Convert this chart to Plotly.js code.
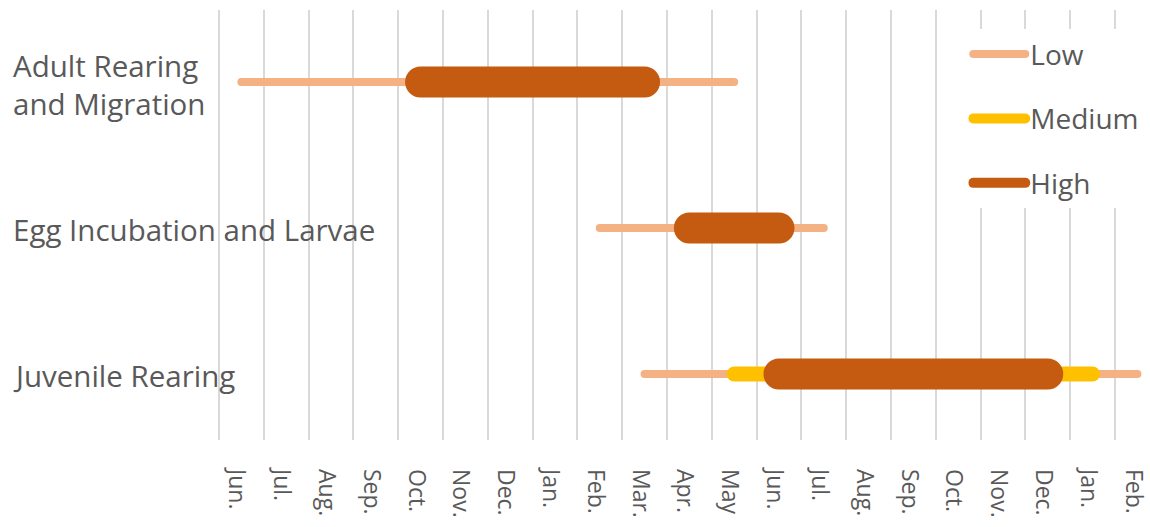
<!DOCTYPE html>
<html>
<head>
<meta charset="utf-8">
<script src="https://cdn.plot.ly/plotly-3.0.1.min.js"></script>
<style>
  body { margin: 0; background: #fff; }
  #chart { width: 1150px; height: 527px; }
  path.js-line { stroke-linecap: round !important; }
</style>
</head>
<body>
<div id="chart"></div>
<script>
// life stages (top to bottom)
var categories = ['Adult Rearing and Migration', 'Egg Incubation and Larvae', 'Juvenile Rearing'];
var stageLabels = ['Adult Rearing<br>and Migration', 'Egg Incubation and Larvae', 'Juvenile Rearing'];

// month axis, index 0 = Jun. (first year) ... 20 = Feb.
var months = ['Jun.', 'Jul.', 'Aug.', 'Sep.', 'Oct.', 'Nov.', 'Dec.', 'Jan.', 'Feb.', 'Mar.', 'Apr.',
              'May', 'Jun.', 'Jul.', 'Aug.', 'Sep.', 'Oct.', 'Nov.', 'Dec.', 'Jan.', 'Feb.'];

// periods in month units
var lowStart = [0.5, 8.5, 9.5];
var lowEnd = [11.5, 13.5, 20.5];
var mediumStart = [null, null, 11.5];
var mediumEnd = [null, null, 19.5];
var highStart = [4.5, 10.5, 12.5];
var highEnd = [9.5, 12.5, 18.5];

function segs(starts, ends) {
    var xs = [], ys = [];
    for (var i = 0; i < categories.length; i++) {
        if (starts[i] === null) continue;
        xs.push(starts[i], ends[i], null);
        ys.push(categories[i], categories[i], null);
    }
    return {x: xs, y: ys};
}

var low = segs(lowStart, lowEnd);
var med = segs(mediumStart, mediumEnd);
var high = segs(highStart, highEnd);

var data = [
    {x: low.x, y: low.y, name: 'Low', type: 'scatter', mode: 'lines', legendgroup: 'a',
     line: {color: '#F4B183', width: 8}, connectgaps: false, hoverinfo: 'skip'},
    {x: med.x, y: med.y, name: 'Medium', type: 'scatter', mode: 'lines', legendgroup: 'b',
     line: {color: '#FFC000', width: 15}, connectgaps: false, hoverinfo: 'skip'},
    {x: high.x, y: high.y, name: 'High', type: 'scatter', mode: 'lines', legendgroup: 'c',
     line: {color: '#C55A11', width: 31}, connectgaps: false, hoverinfo: 'skip'}
];

var labelShift = [-3, -2, -1];
var annotations = [];
for (var i = 0; i < categories.length; i++) {
    annotations.push({
        text: stageLabels[i], xref: 'paper', yref: 'y', x: -0.2129, y: categories[i],
        yshift: labelShift[i],
        xanchor: 'left', align: 'left', showarrow: false,
        font: {family: 'Open Sans', size: 29.5, color: '#595959'}
    });
}

var layout = {
    width: 1150,
    height: 527,
    margin: {l: 210, r: 5, t: 10, b: 87},
    paper_bgcolor: '#fff',
    plot_bgcolor: '#fff',
    font: {family: 'Open Sans', color: '#595959'},
    xaxis: {
        range: [-0.2, 20.67],
        tickvals: months.map(function(m, i) { return i; }),
        ticktext: months,
        tickangle: 90,
        ticklabelshift: 18,
        ticklabelstandoff: 28,
        ticklabeloverflow: 'allow',
        showgrid: true,
        gridcolor: '#d9d9d9',
        gridwidth: 2,
        zeroline: false,
        showline: false,
        ticks: '',
        tickfont: {size: 23, color: '#595959'},
        fixedrange: true
    },
    yaxis: {
        type: 'category',
        categoryarray: categories,
        range: [2.452, -0.493],
        showticklabels: false,
        showgrid: false,
        zeroline: false,
        showline: false,
        ticks: '',
        fixedrange: true
    },
    showlegend: true,
    legend: {
        x: 0.811, y: 0.955, xanchor: 'left', yanchor: 'top',
        bgcolor: '#fff',
        itemwidth: 52,
        tracegroupgap: 25,
        font: {size: 28, color: '#595959'}
    },
    annotations: annotations
};

Plotly.newPlot('chart', data, layout, {displayModeBar: false, staticPlot: true});
</script>
</body>
</html>
